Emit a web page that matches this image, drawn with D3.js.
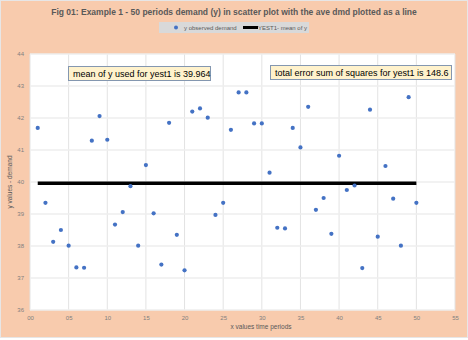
<!DOCTYPE html>
<html>
<head>
<meta charset="utf-8">
<script src="https://cdn.jsdelivr.net/npm/d3@7"></script>
<style>
  html, body { margin: 0; padding: 0; background: #fff; }
  svg { display: block; }
</style>
</head>
<body>
<svg id="chart" width="468" height="340"></svg>
<script>
// periods 1..50 and observed demand
const periods = d3.range(1, 51);
const demand = [
  41.69, 39.35, 38.13, 38.50, 38.01, 37.33, 37.32, 41.29, 42.06, 41.32,
  38.67, 39.06, 39.87, 38.01, 40.53, 39.02, 37.42, 41.85, 38.35, 37.24,
  42.20, 42.30, 42.01, 38.97, 39.35, 41.63, 42.80, 42.80, 41.83, 41.83,
  40.29, 38.57, 38.55, 41.69, 41.08, 42.35, 39.13, 39.50, 38.38, 40.82,
  39.75, 39.89, 37.31, 42.26, 38.29, 40.50, 39.48, 38.01, 42.65, 39.35
];
const meanY = 39.964;
const sse = 148.6;
const xTicks = d3.range(0, 56, 5);
const yTicks = d3.range(36, 45, 1);

const svg = d3.select('#chart');
const W = 468, H = 340;
const plot = {left: 30, right: 455, top: 54, bottom: 310};

// chart background
svg.append('rect')
  .attr('x', 0.5).attr('y', 0.5)
  .attr('width', W - 1).attr('height', H - 3)
  .attr('fill', '#f8cbad')
  .attr('stroke', '#e7e6e6');

const x = d3.scaleLinear().domain([0, 55]).range([plot.left, plot.right]);
const y = d3.scaleLinear().domain([36, 44]).range([plot.bottom, plot.top]);

svg.append('rect')
  .attr('x', plot.left).attr('y', plot.top)
  .attr('width', plot.right - plot.left).attr('height', plot.bottom - plot.top)
  .attr('fill', '#fff');

// gridlines
svg.append('g').selectAll('line.v')
  .data(xTicks)
  .enter().append('line')
  .attr('x1', d => x(d)).attr('x2', d => x(d))
  .attr('y1', plot.top).attr('y2', plot.bottom)
  .attr('stroke', '#e3e3e3').attr('stroke-width', 1);

svg.append('g').selectAll('line.h')
  .data(yTicks)
  .enter().append('line')
  .attr('x1', plot.left).attr('x2', plot.right)
  .attr('y1', d => y(d)).attr('y2', d => y(d))
  .attr('stroke', '#eeeeee').attr('stroke-width', 1.5);

// axes (labels only)
const xAxis = svg.append('g')
  .attr('transform', `translate(0,${plot.bottom})`)
  .call(d3.axisBottom(x).tickValues(xTicks).tickFormat(d3.format('02d')).tickSize(0).tickPadding(6));
const yAxis = svg.append('g')
  .attr('transform', `translate(${plot.left},0)`)
  .call(d3.axisLeft(y).tickValues(yTicks).tickSize(0).tickPadding(6));
[xAxis, yAxis].forEach(a => {
  a.select('.domain').remove();
  a.selectAll('text')
    .attr('fill', '#7f7f7f')
    .style('font-family', 'Liberation Sans, Arial, sans-serif')
    .style('font-size', '6px');
});

// axis titles
svg.append('text')
  .attr('x', 261).attr('y', 329)
  .attr('text-anchor', 'middle')
  .attr('fill', '#595959')
  .style('font-family', 'Liberation Sans, Arial, sans-serif')
  .style('font-size', '6.5px')
  .text('x values time periods');

svg.append('text')
  .attr('transform', `translate(12,${(plot.top + plot.bottom) / 2}) rotate(-90)`)
  .attr('text-anchor', 'middle')
  .attr('fill', '#595959')
  .style('font-family', 'Liberation Sans, Arial, sans-serif')
  .style('font-size', '6.5px')
  .text('y values - demand');

// mean line
svg.append('line')
  .attr('x1', x(1)).attr('x2', x(50))
  .attr('y1', y(meanY)).attr('y2', y(meanY))
  .attr('stroke', '#000').attr('stroke-width', 3.5);

// scatter points
svg.append('g').selectAll('circle')
  .data(periods)
  .enter().append('circle')
  .attr('cx', d => x(d))
  .attr('cy', (d, i) => y(demand[i]))
  .attr('r', 2.1)
  .attr('fill', '#4472c4');

// annotation boxes
const notes = [
  {x: 68, y: 66, w: 142, text: 'mean of y used for yest1 is ' + meanY},
  {x: 270, y: 65, w: 181, text: 'total error sum of squares for yest1 is ' + sse}
];
notes.forEach(n => {
  svg.append('rect')
    .attr('x', n.x + 0.5).attr('y', n.y + 0.5)
    .attr('width', n.w).attr('height', 14)
    .attr('fill', '#fff2cc')
    .attr('stroke', '#8497b0').attr('stroke-width', 1);
  svg.append('text')
    .attr('x', n.x + 5).attr('y', n.y + 11)
    .attr('fill', '#000')
    .style('font-family', 'Liberation Sans, Arial, sans-serif')
    .style('font-size', '9px')
    .text(n.text);
});

// title
svg.append('text')
  .attr('x', 234).attr('y', 15)
  .attr('text-anchor', 'middle')
  .attr('fill', '#595959')
  .style('font-family', 'Liberation Sans, Arial, sans-serif')
  .style('font-weight', 'bold')
  .style('font-size', '8.5px')
  .text('Fig 01: Example 1 - 50 periods demand (y) in scatter plot with the ave dmd plotted as a line');

// legend
const lg = svg.append('g');
lg.append('rect')
  .attr('x', 159).attr('y', 22).attr('width', 150).attr('height', 11)
  .attr('fill', '#d9d9d9');
lg.append('circle').attr('cx', 176).attr('cy', 27.5).attr('r', 2).attr('fill', '#4472c4');
lg.append('text').attr('x', 184).attr('y', 30)
  .attr('fill', '#595959')
  .style('font-family', 'Liberation Sans, Arial, sans-serif')
  .style('font-size', '6px')
  .text('y observed demand');
lg.append('line').attr('x1', 243).attr('x2', 258).attr('y1', 27.5).attr('y2', 27.5)
  .attr('stroke', '#000').attr('stroke-width', 3);
lg.append('text').attr('x', 258).attr('y', 30)
  .attr('fill', '#595959')
  .style('font-family', 'Liberation Sans, Arial, sans-serif')
  .style('font-size', '6px')
  .text('YEST1- mean of y');
</script>
</body>
</html>
